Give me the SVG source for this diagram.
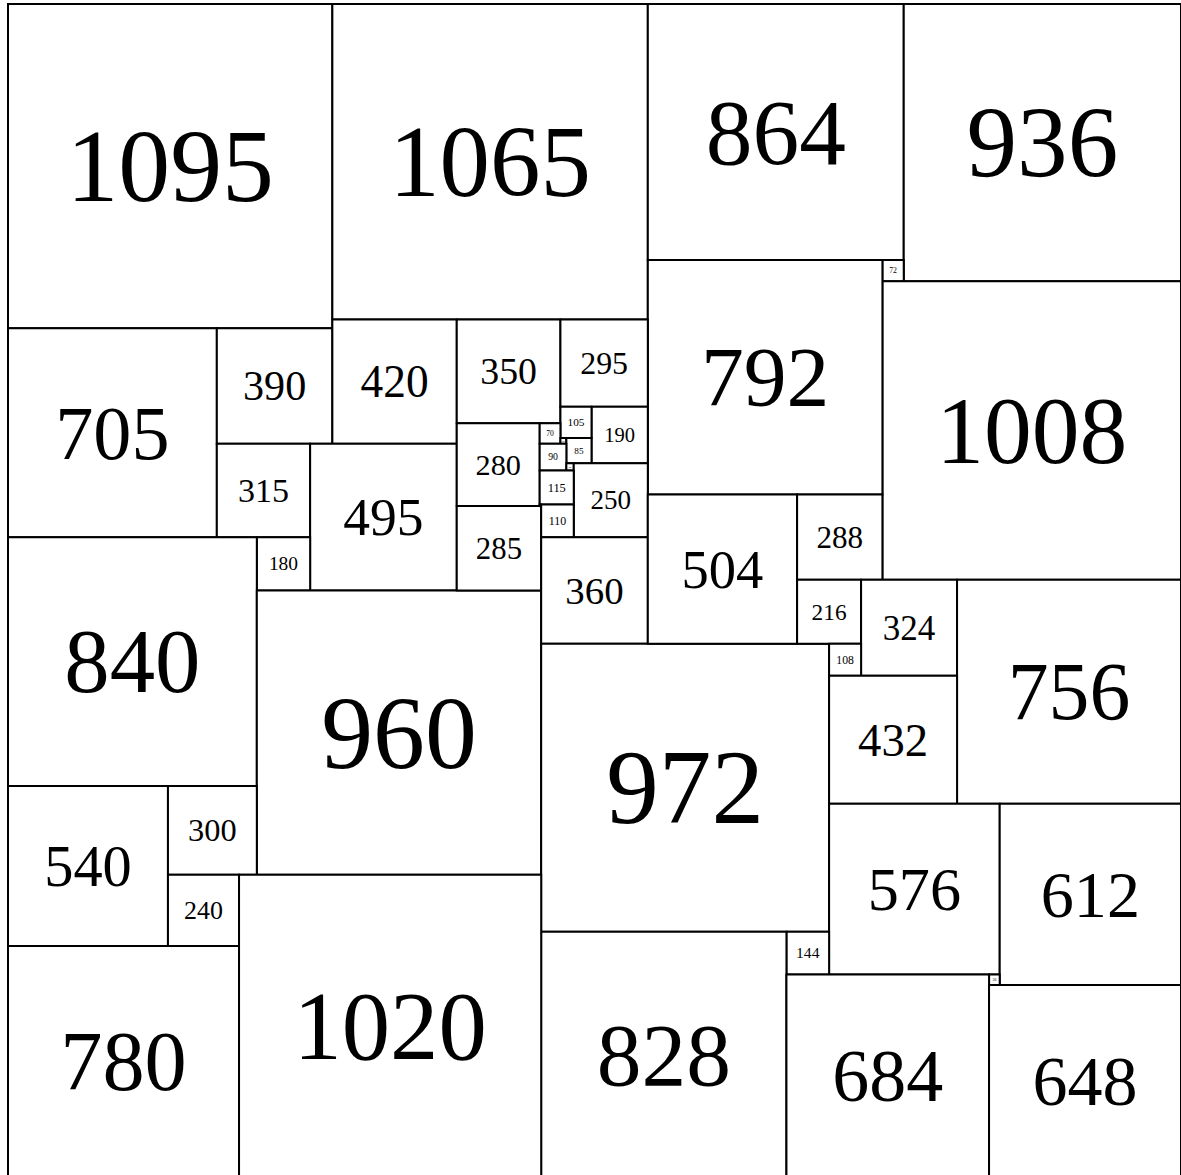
<svg xmlns="http://www.w3.org/2000/svg" width="1181" height="1175" viewBox="0 0 1181 1175">
<style>
rect{fill:#fff;stroke:#000;stroke-width:2;vector-effect:non-scaling-stroke}
text{font-family:"Liberation Serif","Times New Roman",serif;text-anchor:middle;fill:#000}
</style>
<rect x="0" y="0" width="1181" height="1175" style="stroke:none"/>
<g transform="translate(8,4) scale(0.29621)">
<g id="sq1095"><rect x="0" y="0" width="1095" height="1095"/><text x="547.5" y="665.9" font-size="350.4">1095</text></g>
<g id="sq1065"><rect x="1095" y="0" width="1065" height="1065"/><text x="1627.5" y="647.7" font-size="340.8">1065</text></g>
<g id="sq864"><rect x="2160" y="0" width="864" height="864"/><text x="2592" y="538.6" font-size="315.4">864</text></g>
<g id="sq936"><rect x="3024" y="0" width="936" height="936"/><text x="3492" y="583.5" font-size="341.6">936</text></g>
<g id="sq72"><rect x="2952" y="864" width="72" height="72"/><text x="2988" y="908.9" font-size="26.3">72</text></g>
<g id="sq1008"><rect x="2952" y="936" width="1008" height="1008"/><text x="3456" y="1549" font-size="322.6">1008</text></g>
<g id="sq792"><rect x="2160" y="864" width="792" height="792"/><text x="2556" y="1357.7" font-size="289.1">792</text></g>
<g id="sq705"><rect x="0" y="1095" width="705" height="705"/><text x="352.5" y="1534.5" font-size="257.3">705</text></g>
<g id="sq390"><rect x="705" y="1095" width="390" height="390"/><text x="900" y="1338.1" font-size="142.4">390</text></g>
<g id="sq420"><rect x="1095" y="1065" width="420" height="420"/><text x="1305" y="1326.8" font-size="153.3">420</text></g>
<g id="sq350"><rect x="1515" y="1065" width="350" height="350"/><text x="1690" y="1283.2" font-size="127.8">350</text></g>
<g id="sq295"><rect x="1865" y="1065" width="295" height="295"/><text x="2012.5" y="1248.9" font-size="107.7">295</text></g>
<g id="sq315"><rect x="705" y="1485" width="315" height="315"/><text x="862.5" y="1681.4" font-size="115">315</text></g>
<g id="sq495"><rect x="1020" y="1485" width="495" height="495"/><text x="1267.5" y="1793.6" font-size="180.7">495</text></g>
<g id="sq180"><rect x="840" y="1800" width="180" height="180"/><text x="930" y="1912.2" font-size="65.7">180</text></g>
<g id="sq840"><rect x="0" y="1800" width="840" height="840"/><text x="420" y="2323.6" font-size="306.6">840</text></g>
<g id="sq960"><rect x="840" y="1980" width="960" height="960"/><text x="1320" y="2578.4" font-size="350.4">960</text></g>
<g id="sq280"><rect x="1515" y="1415" width="280" height="280"/><text x="1655" y="1589.5" font-size="102.2">280</text></g>
<g id="sq285"><rect x="1515" y="1695" width="285" height="285"/><text x="1657.5" y="1872.7" font-size="104">285</text></g>
<g id="sq190"><rect x="1970" y="1360" width="190" height="190"/><text x="2065" y="1478.5" font-size="69.4">190</text></g>
<g id="sq105"><rect x="1865" y="1360" width="105" height="105"/><text x="1917.5" y="1425.4" font-size="38.3">105</text></g>
<g id="sq70"><rect x="1795" y="1415" width="70" height="70"/><text x="1830" y="1458.7" font-size="25.6">70</text></g>
<g id="sq20"><rect x="1865" y="1465" width="20" height="20"/><text x="1875" y="1477.5" font-size="7.3">20</text></g>
<g id="sq85"><rect x="1885" y="1465" width="85" height="85"/><text x="1927.5" y="1518" font-size="31">85</text></g>
<g id="sq90"><rect x="1795" y="1485" width="90" height="90"/><text x="1840" y="1541.1" font-size="32.9">90</text></g>
<g id="sq25"><rect x="1885" y="1550" width="25" height="25"/><text x="1897.5" y="1565.6" font-size="9.1">25</text></g>
<g id="sq250"><rect x="1910" y="1550" width="250" height="250"/><text x="2035" y="1705.9" font-size="91.3">250</text></g>
<g id="sq115"><rect x="1795" y="1575" width="115" height="115"/><text x="1852.5" y="1646.7" font-size="42">115</text></g>
<g id="sq5"><rect x="1795" y="1690" width="5" height="5"/><text x="1797.5" y="1694" font-size="4">5</text></g>
<g id="sq110"><rect x="1800" y="1690" width="110" height="110"/><text x="1855" y="1758.6" font-size="40.2">110</text></g>
<g id="sq360"><rect x="1800" y="1800" width="360" height="360"/><text x="1980" y="2024.4" font-size="131.4">360</text></g>
<g id="sq972"><rect x="1800" y="2160" width="972" height="972"/><text x="2286" y="2765.9" font-size="354.8">972</text></g>
<g id="sq504"><rect x="2160" y="1656" width="504" height="504"/><text x="2412" y="1970.2" font-size="184">504</text></g>
<g id="sq288"><rect x="2664" y="1656" width="288" height="288"/><text x="2808" y="1835.5" font-size="105.1">288</text></g>
<g id="sq216"><rect x="2664" y="1944" width="216" height="216"/><text x="2772" y="2078.6" font-size="78.8">216</text></g>
<g id="sq324"><rect x="2880" y="1944" width="324" height="324"/><text x="3042" y="2146" font-size="118.3">324</text></g>
<g id="sq756"><rect x="3204" y="1944" width="756" height="756"/><text x="3582" y="2415.3" font-size="275.9">756</text></g>
<g id="sq108"><rect x="2772" y="2160" width="108" height="108"/><text x="2826" y="2227.3" font-size="39.4">108</text></g>
<g id="sq432"><rect x="2772" y="2268" width="432" height="432"/><text x="2988" y="2537.3" font-size="157.7">432</text></g>
<g id="sq576"><rect x="2772" y="2700" width="576" height="576"/><text x="3060" y="3059" font-size="210.2">576</text></g>
<g id="sq612"><rect x="3348" y="2700" width="612" height="612"/><text x="3654" y="3081.5" font-size="223.4">612</text></g>
<g id="sq144"><rect x="2628" y="3132" width="144" height="144"/><text x="2700" y="3221.8" font-size="52.6">144</text></g>
<g id="sq828"><rect x="1800" y="3132" width="828" height="828"/><text x="2214" y="3648.1" font-size="302.2">828</text></g>
<g id="sq36"><rect x="3312" y="3276" width="36" height="36"/><text x="3330" y="3298.4" font-size="13.1">36</text></g>
<g id="sq684"><rect x="2628" y="3276" width="684" height="684"/><text x="2970" y="3702.4" font-size="249.7">684</text></g>
<g id="sq648"><rect x="3312" y="3312" width="648" height="648"/><text x="3636" y="3715.9" font-size="236.5">648</text></g>
<g id="sq540"><rect x="0" y="2640" width="540" height="540"/><text x="270" y="2976.6" font-size="197.1">540</text></g>
<g id="sq300"><rect x="540" y="2640" width="300" height="300"/><text x="690" y="2827" font-size="109.5">300</text></g>
<g id="sq240"><rect x="540" y="2940" width="240" height="240"/><text x="660" y="3089.6" font-size="87.6">240</text></g>
<g id="sq780"><rect x="0" y="3180" width="780" height="780"/><text x="390" y="3666.2" font-size="284.7">780</text></g>
<g id="sq1020"><rect x="780" y="2940" width="1020" height="1020"/><text x="1290" y="3560.3" font-size="326.4">1020</text></g>
</g>
<g id="connectors"/>
</svg>
